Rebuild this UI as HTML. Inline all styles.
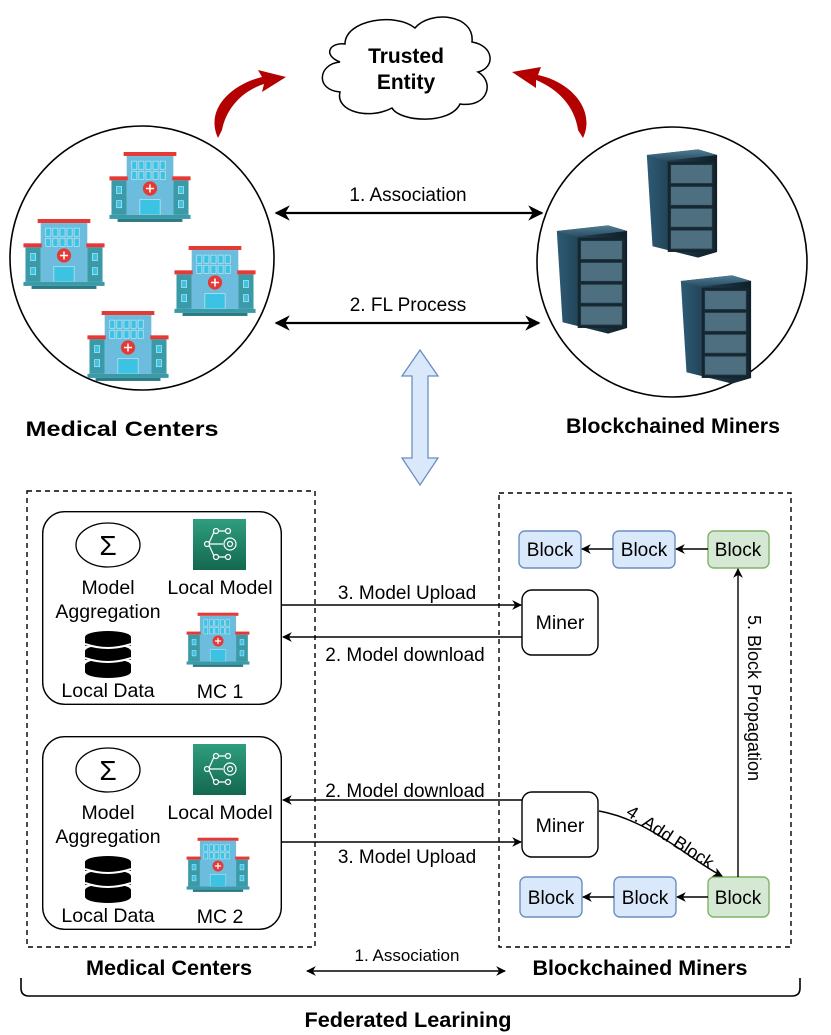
<!DOCTYPE html>
<html><head><meta charset="utf-8"><style>
html,body{margin:0;padding:0;background:#fff}
svg{display:block}
text{font-family:"Liberation Sans",Arial,sans-serif;fill:#000}
.b{font-weight:bold}
</style></head><body>
<svg width="831" height="1035" viewBox="0 0 831 1035" xmlns="http://www.w3.org/2000/svg">
<defs>
<marker id="ah" viewBox="0 0 10 10" refX="9" refY="5" markerWidth="7" markerHeight="7" orient="auto-start-reverse"><path d="M0,0 L10,5 L0,10 L3,5 z" fill="#000"/></marker>
<linearGradient id="rk" x1="0" y1="0" x2="1" y2="0"><stop offset="0" stop-color="#2e5b75"/><stop offset="0.5" stop-color="#1b3646"/><stop offset="1" stop-color="#0f1f29"/></linearGradient>
<linearGradient id="rf" x1="0" y1="0" x2="0" y2="1"><stop offset="0" stop-color="#4f7e96"/><stop offset="1" stop-color="#2a4c5f"/></linearGradient>
<linearGradient id="gm" x1="0" y1="0" x2="0" y2="1"><stop offset="0" stop-color="#2f9e7e"/><stop offset="1" stop-color="#13684f"/></linearGradient>
<symbol id="hosp" viewBox="0 0 84 72">
<rect x="16" y="0" width="52" height="4" fill="#e53935"/>
<rect x="19" y="4" width="46" height="58" fill="#6cbcdd"/>
<rect x="2" y="24" width="18" height="4" fill="#e53935"/>
<rect x="64" y="24" width="18" height="4" fill="#e53935"/>
<rect x="4" y="28" width="15" height="34" fill="#3a9aa8"/>
<rect x="65" y="28" width="15" height="34" fill="#3a9aa8"/>
<g fill="#3cc3e3" stroke="#cfeef8" stroke-width="0.6">
<rect x="24" y="9" width="5" height="8"/><rect x="31" y="9" width="5" height="8"/><rect x="38" y="9" width="5" height="8"/><rect x="45" y="9" width="5" height="8"/><rect x="52" y="9" width="5" height="8"/>
<rect x="24" y="19" width="5" height="8"/><rect x="31" y="19" width="5" height="8"/><rect x="38" y="19" width="5" height="8"/><rect x="45" y="19" width="5" height="8"/><rect x="52" y="19" width="5" height="8"/>
<rect x="9" y="34" width="5" height="7"/><rect x="9" y="48" width="5" height="7"/><rect x="70" y="34" width="5" height="7"/><rect x="70" y="48" width="5" height="7"/>
<rect x="32" y="47" width="20" height="15"/></g>
<circle cx="42" cy="36" r="7" fill="#e53935"/>
<path d="M42,32 V40 M38,36 H46" stroke="#fff" stroke-width="1.5"/>
<rect x="2" y="62" width="80" height="4" fill="#3a9aa8"/>
<rect x="10" y="66" width="64" height="3" fill="#2b7a86"/>
</symbol>
<symbol id="rack" viewBox="0 0 80 118">
<path d="M4,8 L58,2 L78,8 L78,110 L58,116 L10,104 Z" fill="url(#rk)"/>
<path d="M4,8 L58,2 L78,8 L24,14 Z" fill="url(#rf)"/>
<rect x="26" y="15" width="50" height="95" fill="#15262f"/>
<g fill="#4d6f80" stroke="#1d3440"><rect x="29" y="18" width="44" height="20"/><rect x="29" y="41" width="44" height="20"/><rect x="29" y="64" width="44" height="20"/><rect x="29" y="87" width="44" height="20"/></g>
</symbol>
<symbol id="mcbox" viewBox="0 0 240 194">
<rect x="0.7" y="0.7" width="238.6" height="192.6" rx="22" fill="#fff" stroke="#000" stroke-width="1.4"/>
<ellipse cx="66" cy="34" rx="32" ry="22" fill="#fff" stroke="#000" stroke-width="1.3"/>
<text x="66" y="44" font-size="28" text-anchor="middle">Σ</text>
<text x="66" y="83" font-size="19.5" text-anchor="middle">Model</text>
<text x="66" y="107" font-size="19.5" text-anchor="middle">Aggregation</text>
<rect x="151" y="8" width="53" height="51" fill="url(#gm)"/>
<g stroke="#fff" stroke-width="1.2" fill="none"><circle cx="165" cy="33" r="2.5"/><circle cx="174" cy="20" r="2.5"/><circle cx="174" cy="46" r="2.5"/><circle cx="186" cy="20" r="2.5"/><circle cx="186" cy="46" r="2.5"/><circle cx="188" cy="33" r="6"/><circle cx="188" cy="33" r="2.5"/><path d="M167,32 L172,21 M167,34 L172,45 M177,20 H183 M177,46 H183 M168,33 H181"/></g>
<text x="178" y="83" font-size="19.5" text-anchor="middle">Local Model</text>
<g fill="#000"><ellipse cx="66" cy="126" rx="23" ry="6"/><rect x="43" y="126" width="46" height="9"/><ellipse cx="66" cy="140" rx="23" ry="6"/><rect x="43" y="140" width="46" height="9"/><ellipse cx="66" cy="154" rx="23" ry="6"/><rect x="43" y="154" width="46" height="7"/><ellipse cx="66" cy="161" rx="23" ry="6"/></g>
<g stroke="#fff" stroke-width="2" fill="none"><path d="M43,133 Q66,141 89,133"/><path d="M43,147 Q66,155 89,147"/></g>
<text x="66" y="186" font-size="19.5" text-anchor="middle">Local Data</text>
</symbol>
</defs>

<path d="M345,44 C345,20 395,12 415,28 C430,10 475,14 472,42 C495,46 495,68 478,72 C495,82 488,108 460,104 C450,125 400,122 392,108 C370,120 335,112 340,92 C315,90 318,64 340,62 C322,55 330,42 345,44 Z" fill="#fff" stroke="#000" stroke-width="1.5"/>
<text x="406" y="63" font-size="21" class="b" text-anchor="middle">Trusted</text>
<text x="406" y="89" font-size="21" class="b" text-anchor="middle">Entity</text>

<path d="M218,138 C205,110 230,85 262,77 L258,70 L286,77 L262,92 L264,84 C240,92 226,110 222,130 Z" fill="#b30000"/>
<path d="M583,138 C596,110 571,82 538,75 L541,67 L512,72 L536,88 L536,80 C560,90 575,108 578,130 Z" fill="#b30000"/>

<circle cx="142" cy="258" r="132" fill="#fff" stroke="#000" stroke-width="1.6"/>
<circle cx="672" cy="262" r="135" fill="#fff" stroke="#000" stroke-width="1.6"/>
<use href="#hosp" x="107" y="152" width="86" height="73"/>
<use href="#hosp" x="21" y="219" width="86" height="73"/>
<use href="#hosp" x="172" y="246" width="86" height="73"/>
<use href="#hosp" x="85" y="311" width="86" height="73"/>
<use href="#rack" x="553" y="222" width="76" height="115"/>
<use href="#rack" x="643" y="146" width="76" height="115"/>
<use href="#rack" x="677" y="272" width="76" height="115"/>

<line x1="276" y1="213" x2="542" y2="213" stroke="#000" stroke-width="2.2" marker-start="url(#ah)" marker-end="url(#ah)"/>
<text x="408" y="201" font-size="19" text-anchor="middle">1. Association</text>
<line x1="276" y1="323" x2="539" y2="323" stroke="#000" stroke-width="2.2" marker-start="url(#ah)" marker-end="url(#ah)"/>
<text x="408" y="311" font-size="19" text-anchor="middle">2. FL Process</text>

<text x="122" y="436" font-size="21" class="b" text-anchor="middle" textLength="193" lengthAdjust="spacingAndGlyphs">Medical Centers</text>
<text x="673" y="433" font-size="21" class="b" text-anchor="middle" textLength="214" lengthAdjust="spacingAndGlyphs">Blockchained Miners</text>

<path d="M420,350 L438,376 L428,376 L428,458 L438,458 L420,485 L402,458 L412,458 L412,376 L402,376 Z" fill="#dae8fc" stroke="#6c8ebf" stroke-width="1.3"/>

<rect x="27" y="491" width="288" height="456" fill="none" stroke="#000" stroke-width="1.4" stroke-dasharray="5,4"/>
<rect x="499" y="493" width="292" height="454" fill="none" stroke="#000" stroke-width="1.4" stroke-dasharray="5,4"/>

<use href="#mcbox" x="42" y="511" width="240" height="194"/>
<use href="#hosp" x="185" y="605" width="66" height="72"/>
<text x="220" y="698" font-size="19.5" text-anchor="middle">MC 1</text>
<use href="#mcbox" x="42" y="736" width="240" height="194"/>
<use href="#hosp" x="185" y="830" width="66" height="72"/>
<text x="220" y="923" font-size="19.5" text-anchor="middle">MC 2</text>

<rect x="522" y="590" width="76" height="65" rx="10" fill="#fff" stroke="#000" stroke-width="1.4"/>
<text x="560" y="629" font-size="19.5" text-anchor="middle">Miner</text>
<rect x="522" y="792" width="76" height="65" rx="10" fill="#fff" stroke="#000" stroke-width="1.4"/>
<text x="560" y="832" font-size="19.5" text-anchor="middle">Miner</text>

<g font-size="19" text-anchor="middle">
<rect x="519" y="531" width="62" height="37" rx="6" fill="#dae8fc" stroke="#6c8ebf" stroke-width="1.4"/><text x="550" y="556">Block</text>
<rect x="613" y="531" width="62" height="37" rx="6" fill="#dae8fc" stroke="#6c8ebf" stroke-width="1.4"/><text x="644" y="556">Block</text>
<rect x="708" y="531" width="61" height="37" rx="6" fill="#d5e8d4" stroke="#82b366" stroke-width="1.4"/><text x="738" y="556">Block</text>
<rect x="520" y="877" width="62" height="40" rx="6" fill="#dae8fc" stroke="#6c8ebf" stroke-width="1.4"/><text x="551" y="904">Block</text>
<rect x="614" y="877" width="62" height="40" rx="6" fill="#dae8fc" stroke="#6c8ebf" stroke-width="1.4"/><text x="645" y="904">Block</text>
<rect x="708" y="877" width="61" height="40" rx="6" fill="#d5e8d4" stroke="#82b366" stroke-width="1.4"/><text x="738" y="904">Block</text>
</g>
<g stroke="#000" stroke-width="1.4" fill="none">
<line x1="613" y1="549" x2="582" y2="549" marker-end="url(#ah)"/>
<line x1="708" y1="549" x2="676" y2="549" marker-end="url(#ah)"/>
<line x1="614" y1="897" x2="583" y2="897" marker-end="url(#ah)"/>
<line x1="708" y1="897" x2="677" y2="897" marker-end="url(#ah)"/>
<line x1="738" y1="877" x2="738" y2="569" marker-end="url(#ah)"/>
<path d="M599,811 C650,820 690,860 722,876" marker-end="url(#ah)"/>
<line x1="282" y1="605" x2="521" y2="605" marker-end="url(#ah)"/>
<line x1="522" y1="637" x2="283" y2="637" marker-end="url(#ah)"/>
<line x1="522" y1="800" x2="283" y2="800" marker-end="url(#ah)"/>
<line x1="282" y1="842" x2="521" y2="842" marker-end="url(#ah)"/>
<line x1="307" y1="971" x2="505" y2="971" marker-start="url(#ah)" marker-end="url(#ah)"/>
<path d="M21,978 V988 Q21,996 29,996 H792 Q800,996 800,988 V978" stroke-width="1.6"/>
</g>
<g font-size="19" text-anchor="middle">
<text x="407" y="599">3. Model Upload</text>
<text x="405" y="661">2. Model download</text>
<text x="405" y="797">2. Model download</text>
<text x="407" y="863">3. Model Upload</text>
<text x="407" y="961" font-size="17">1. Association</text>
<text transform="translate(667,842) rotate(33)" font-size="18">4. Add Block</text>
<text transform="translate(748,698) rotate(90)" font-size="18">5. Block Propagation</text>
</g>
<text x="169" y="975" font-size="21" class="b" text-anchor="middle" textLength="166" lengthAdjust="spacingAndGlyphs">Medical Centers</text>
<text x="640" y="975" font-size="21" class="b" text-anchor="middle" textLength="215" lengthAdjust="spacingAndGlyphs">Blockchained Miners</text>
<text x="408" y="1027" font-size="21" class="b" text-anchor="middle" textLength="207" lengthAdjust="spacingAndGlyphs">Federated Learining</text>
</svg>
</body></html>
